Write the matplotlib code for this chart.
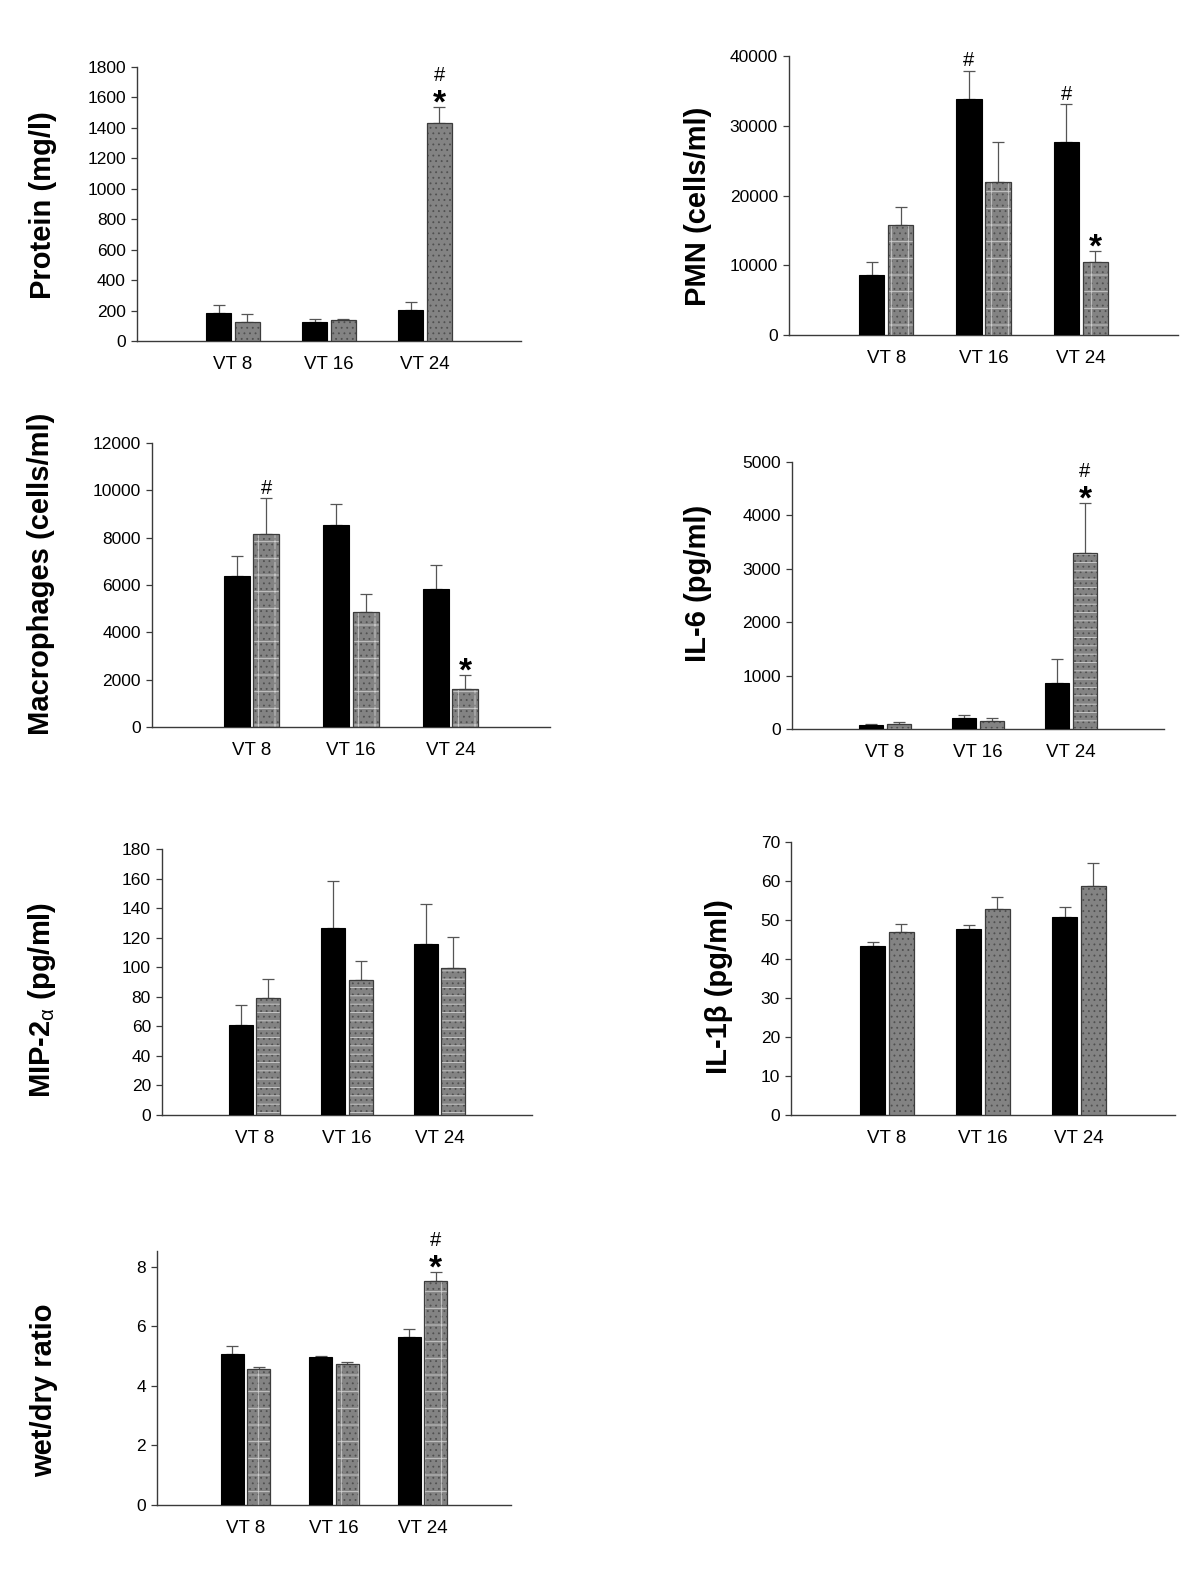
import matplotlib
matplotlib.use('Agg')
import matplotlib.pyplot as plt
import numpy as np

plt.rcParams['font.family'] = ['Liberation Sans', 'DejaVu Sans']
plt.rcParams['mathtext.fontset'] = 'custom'
plt.rcParams['mathtext.rm'] = 'Liberation Sans'
plt.rcParams['hatch.linewidth'] = 0.6

categories = ['VT 8', 'VT 16', 'VT 24']

# group means (black = first series, gray = second series) and upper SEM
protein_black = [183, 122, 204]
protein_black_err = [54, 21, 53]
protein_gray = [128, 135, 1433]
protein_gray_err = [52, 11, 102]

pmn_black = [8600, 33800, 27600]
pmn_black_err = [1850, 4100, 5480]
pmn_gray = [15750, 21900, 10450]
pmn_gray_err = [2580, 5830, 1580]

mac_black = [6400, 8550, 5850]
mac_black_err = [810, 890, 1000]
mac_gray = [8170, 4850, 1610]
mac_gray_err = [1520, 780, 590]

il6_black = [75, 200, 860]
il6_black_err = [19, 62, 451]
il6_gray = [94, 156, 3290]
il6_gray_err = [31, 56, 942]

mip_black = [60.7, 126.8, 116.0]
mip_black_err = [13.5, 31.6, 26.6]
mip_gray = [79.2, 91.1, 99.5]
mip_gray_err = [12.6, 12.9, 21.0]

il1b_black = [43.3, 47.7, 50.7]
il1b_black_err = [1.1, 1.1, 2.7]
il1b_gray = [46.9, 52.9, 58.8]
il1b_gray_err = [2.0, 2.9, 5.8]

wd_black = [5.08, 4.955, 5.62]
wd_black_err = [0.25, 0.03, 0.29]
wd_gray = [4.56, 4.72, 7.53]
wd_gray_err = [0.08, 0.09, 0.28]

# significance marks: (group index, series 0=black 1=gray, symbols bottom->top)
protein_marks = [(2, 1, '*#')]
pmn_marks = [(1, 0, '#'), (2, 0, '#'), (2, 1, '*')]
mac_marks = [(0, 1, '#'), (2, 1, '*')]
il6_marks = [(2, 1, '*#')]
wd_marks = [(2, 1, '*#')]

W, H = 1200, 1590
fig = plt.figure(figsize=(W / 100, H / 100), dpi=100)

AXC = '#3a3a3a'
GRAY = '#838383'
BW = 0.26


def panel(box, ylabel, lab_xy, black, black_err, gray, gray_err,
          ylim, yticks, lines_hatch, marks=()):
    left, right, y0, ytop = box
    ax = fig.add_axes([left / W, 1 - y0 / H, (right - left) / W, (y0 - ytop) / H])
    x = np.arange(len(categories))
    xb, xg = x - 0.15, x + 0.15
    ax.bar(xb, black, BW, color='black', edgecolor='black', lw=0.8, zorder=3)
    ax.bar(xg, gray, BW, color=GRAY, lw=0, zorder=3)
    ax.bar(xg, gray, BW, color='none', edgecolor='#505050', lw=0, hatch='...', zorder=3)
    if lines_hatch:
        ax.bar(xg, gray, BW, color='none', edgecolor='#cfcfcf', lw=0,
               hatch=lines_hatch, zorder=3)
    ax.bar(xg, gray, BW, color='none', edgecolor='#3c3c3c', lw=0.9, zorder=3)
    for xs, m, e in ((xb, black, black_err), (xg, gray, gray_err)):
        ax.errorbar(xs, m, yerr=[np.zeros(len(e)), e], fmt='none',
                    ecolor='#555555', elinewidth=0.9, capsize=4, capthick=0.9,
                    zorder=2)
    for gi, si, syms in marks:
        xs = xb[gi] if si == 0 else xg[gi]
        top = (black[gi] + black_err[gi]) if si == 0 else (gray[gi] + gray_err[gi])
        off = 3
        for s in syms:
            if s == '*':
                ax.annotate('*', (xs, top), xytext=(0, -4), textcoords='offset points',
                            ha='center', va='baseline', fontsize=24, fontweight='bold')
                off = 19
            else:
                ax.annotate('#', (xs, top), xytext=(0, off), textcoords='offset points',
                            ha='center', va='baseline', fontsize=14.5)
    ax.set_xlim(-1, 3)
    ax.set_ylim(*ylim)
    ax.set_yticks(yticks)
    ax.set_xticks(x)
    ax.set_xticklabels(categories, fontsize=13.5)
    ax.tick_params(axis='x', length=0, pad=11)
    ax.tick_params(axis='y', direction='out', length=4, width=0.9, color=AXC,
                   labelsize=12.5, pad=4)
    for s in ('top', 'right'):
        ax.spines[s].set_visible(False)
    for s in ('left', 'bottom'):
        ax.spines[s].set_color(AXC)
        ax.spines[s].set_linewidth(1.0)
    fig.text(lab_xy[0] / W, 1 - lab_xy[1] / H, ylabel, rotation=90, ha='center',
             va='center', fontsize=21, fontweight='bold')
    return ax


panel((137, 521, 341, 67), 'Protein (mg/l)', (43, 205),
      protein_black, protein_black_err, protein_gray, protein_gray_err,
      (0, 1800), np.arange(0, 1801, 200), None, protein_marks)

panel((789, 1178, 335, 56), 'PMN (cells/ml)', (698, 206),
      pmn_black, pmn_black_err, pmn_gray, pmn_gray_err,
      (0, 40000), np.arange(0, 40001, 10000), '+', pmn_marks)

panel((152, 550, 727, 443), 'Macrophages (cells/ml)', (41, 574),
      mac_black, mac_black_err, mac_gray, mac_gray_err,
      (0, 12000), np.arange(0, 12001, 2000), '+', mac_marks)

panel((792, 1164, 729, 462), 'IL-6 (pg/ml)', (698, 583),
      il6_black, il6_black_err, il6_gray, il6_gray_err,
      (0, 5000), np.arange(0, 5001, 1000), '--', il6_marks)

panel((162, 532, 1115, 849), 'MIP-2$_{\\mathrm{\u03b1}}$ (pg/ml)', (42, 1000),
      mip_black, mip_black_err, mip_gray, mip_gray_err,
      (0, 180), np.arange(0, 181, 20), '--')

panel((791, 1175, 1115, 842), 'IL-1\u03b2 (pg/ml)', (719, 987),
      il1b_black, il1b_black_err, il1b_gray, il1b_gray_err,
      (0, 70), np.arange(0, 71, 10), None)

panel((157, 511, 1505, 1251), 'wet/dry ratio', (44, 1390),
      wd_black, wd_black_err, wd_gray, wd_gray_err,
      (0, 8.52), np.arange(0, 9, 2), '+', wd_marks)

fig.savefig('out.png', dpi=100)
